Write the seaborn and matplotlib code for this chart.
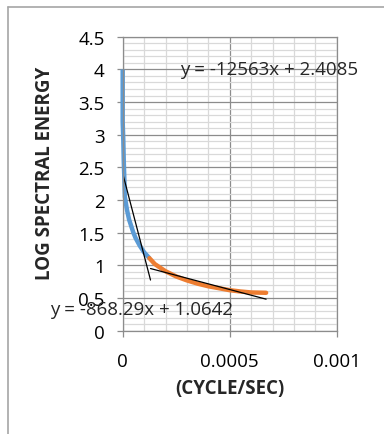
import matplotlib
matplotlib.use("Agg")
import matplotlib.pyplot as plt
import seaborn as sns
import pandas as pd
from matplotlib.ticker import MultipleLocator

# data
blue_x = [0, 0, 0.000003, 0.000005, 0.000008, 0.00001, 0.00002, 0.00003,
          0.00004, 0.00005, 0.00006, 0.00008, 0.0001, 0.000125]
blue_y = [4.0, 3.2, 2.9, 2.6, 2.3, 2.05, 1.85, 1.7, 1.6, 1.5, 1.42, 1.3, 1.2, 1.11]
orange_x = [0.000125, 0.00015, 0.0002, 0.00025, 0.0003, 0.00035, 0.0004,
            0.00045, 0.0005, 0.00055, 0.0006, 0.00067]
orange_y = [1.11, 1.02, 0.91, 0.83, 0.77, 0.72, 0.68, 0.65, 0.62, 0.6, 0.585, 0.58]

fit1_slope, fit1_icpt, fit1_range = -12563, 2.4085, [0, 0.00013]
fit2_slope, fit2_icpt, fit2_range = -868.29, 1.0642, [0.00013, 0.00067]

x_ticks = [0, 0.0005, 0.001]
x_labels = ["0", "0.0005", "0.001"]
y_ticks = [0, 0.5, 1, 1.5, 2, 2.5, 3, 3.5, 4, 4.5]
y_labels = ["0", "0.5", "1", "1.5", "2", "2.5", "3", "3.5", "4", "4.5"]

sns.set_theme(style="white")
plt.rcParams["font.family"] = ["Open Sans", "DejaVu Sans"]
fs = 13.5

fig = plt.figure(figsize=(3.84, 4.35), dpi=100)
ax = fig.add_axes([0.3195, 0.2375, 0.5575, 0.6758])

blue_df = pd.DataFrame({"x": blue_x, "y": blue_y})
orange_df = pd.DataFrame({"x": orange_x, "y": orange_y})
sns.lineplot(data=blue_df, x="x", y="y", sort=False, estimator=None, color="#5B9BD5",
             lw=3.2, solid_capstyle="butt", clip_on=False, ax=ax)
sns.lineplot(data=orange_df, x="x", y="y", sort=False, estimator=None, color="#ED7D31",
             lw=3.2, solid_capstyle="round", clip_on=False, ax=ax)

for slope, icpt, rng in [(fit1_slope, fit1_icpt, fit1_range),
                         (fit2_slope, fit2_icpt, fit2_range)]:
    ax.plot(rng, [slope * v + icpt for v in rng], color="black", lw=0.9)

ax.set_xticks(x_ticks)
ax.set_xticklabels(x_labels)
ax.set_yticks(y_ticks)
ax.set_yticklabels(y_labels)
ax.xaxis.set_minor_locator(MultipleLocator(0.0001))
ax.yaxis.set_minor_locator(MultipleLocator(0.1))
ax.set_xlim(0, 0.001)
ax.set_ylim(0, 4.5)

ax.grid(which="minor", color="#d9d9d9", lw=0.9)
ax.grid(which="major", color="#8c8c8c", lw=0.9)
ax.set_axisbelow(True)
for s in ax.spines.values():
    s.set_color("#8c8c8c")
    s.set_linewidth(0.9)

ax.tick_params(axis="both", which="major", length=4, width=0.9, color="#8c8c8c",
               labelsize=fs, labelcolor="black", bottom=True, left=True)
ax.tick_params(axis="x", which="major", pad=11)
ax.tick_params(axis="y", which="major", pad=9)
ax.tick_params(which="minor", length=0)

ax.set_xlabel("(CYCLE/SEC)", fontsize=fs, fontweight="bold", labelpad=6)
ax.set_ylabel("LOG SPECTRAL ENERGY", fontsize=13.5, fontweight="bold")
ax.yaxis.set_label_coords(-0.315, 0.54)

ax.text(0.000268, 4.0, "y = -12563x + 2.4085", fontsize=fs, va="center", ha="left")
ax.text(-0.00034, 0.33, "y = -868.29x + 1.0642", fontsize=fs, va="center", ha="left",
        clip_on=False)

# outer chart frame
fig.add_artist(plt.Line2D([8 / 384, 8 / 384], [1 - 8 / 435, 0], color="#a6a6a6", lw=1.2))
fig.add_artist(plt.Line2D([8 / 384, 1], [1 - 8 / 435, 1 - 8 / 435], color="#a6a6a6", lw=1.2))

fig.savefig("out.png", dpi=100)
